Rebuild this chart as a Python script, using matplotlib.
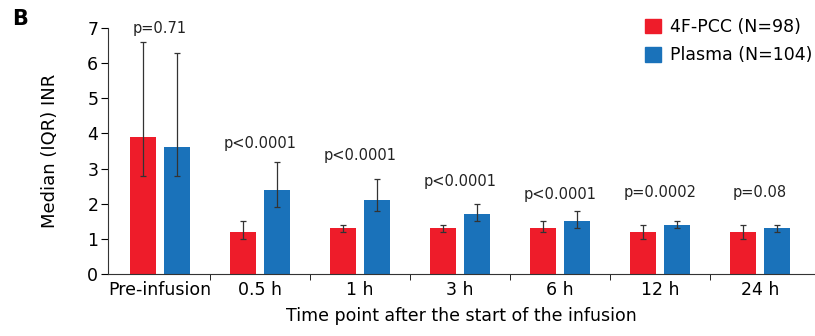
import matplotlib
matplotlib.use('Agg')
import matplotlib.pyplot as plt
from matplotlib.patches import Patch
import numpy as np

plt.rcParams['font.family'] = ['DejaVu Sans']

# Data
timepoints = ['Pre-infusion', '0.5 h', '1 h', '3 h', '6 h', '12 h', '24 h']
pcc_median = [3.9, 1.2, 1.3, 1.3, 1.3, 1.2, 1.2]
pcc_q1 = [2.8, 1.0, 1.2, 1.2, 1.2, 1.0, 1.0]
pcc_q3 = [6.6, 1.5, 1.4, 1.4, 1.5, 1.4, 1.4]
plasma_median = [3.6, 2.4, 2.1, 1.7, 1.5, 1.4, 1.3]
plasma_q1 = [2.8, 1.9, 1.8, 1.5, 1.3, 1.3, 1.2]
plasma_q3 = [6.3, 3.2, 2.7, 2.0, 1.8, 1.5, 1.4]
p_labels = ['p=0.71', 'p<0.0001', 'p<0.0001', 'p<0.0001', 'p<0.0001', 'p=0.0002', 'p=0.08']
p_ypos = [7.0, 3.72, 3.38, 2.62, 2.26, 2.33, 2.33]

red, blue = '#EE1C2A', '#1A72BA'

fig = plt.figure(figsize=(8.15, 3.36), dpi=100)
ax = fig.add_axes([108/815, 62/336, 707/815, 246/336])

x = np.arange(len(timepoints))
w = 0.26
xr, xb = x - 0.175, x + 0.165

def errs(med, lo, hi):
    med, lo, hi = map(np.asarray, (med, lo, hi))
    return [med - lo, hi - med]

ax.bar(xr, pcc_median, w, color=red, zorder=2)
ax.bar(xb, plasma_median, w, color=blue, zorder=2)
ax.errorbar(xr, pcc_median, yerr=errs(pcc_median, pcc_q1, pcc_q3), fmt='none',
            ecolor='#333333', elinewidth=0.9, capsize=2, capthick=0.9, zorder=3)
ax.errorbar(xb, plasma_median, yerr=errs(plasma_median, plasma_q1, plasma_q3), fmt='none',
            ecolor='#333333', elinewidth=0.9, capsize=2, capthick=0.9, zorder=3)

for xi, lab, yp in zip(x, p_labels, p_ypos):
    ax.text(xi, yp, lab, ha='center', va='center', fontsize=10.5, color='#222222')

ax.set_xlim(-0.52, 6.55)
ax.set_ylim(0, 7)
ax.set_yticks(range(8))
ax.set_xticks(x)
ax.set_xticklabels(timepoints, fontsize=12.5)
ax.set_xticks(x[:-1] + 0.5, minor=True)
ax.tick_params(axis='x', which='major', length=0, pad=5)
ax.tick_params(axis='x', which='minor', length=4, direction='out')
ax.tick_params(axis='y', labelsize=12.5, length=5, pad=2)
for s in ['top', 'right']:
    ax.spines[s].set_visible(False)
ax.spines['left'].set_color('#333333')
ax.spines['bottom'].set_color('#333333')

ax.set_ylabel('Median (IQR) INR', fontsize=13, labelpad=20)
ax.set_xlabel('Time point after the start of the infusion', fontsize=12.5, labelpad=6)

handles = [Patch(color=red, label='4F-PCC (N=98)'), Patch(color=blue, label='Plasma (N=104)')]
fig.legend(handles=handles, loc='upper left', bbox_to_anchor=(645/815, 1 - 18/336),
           frameon=False, fontsize=12.5, handlelength=0.9, handleheight=0.9,
           handletextpad=0.55, labelspacing=0.6, borderpad=0, borderaxespad=0)

fig.text(12/815, 1 - 19/336, 'B', fontsize=15, fontweight='bold', va='center')

fig.savefig('out.png', dpi=100)
